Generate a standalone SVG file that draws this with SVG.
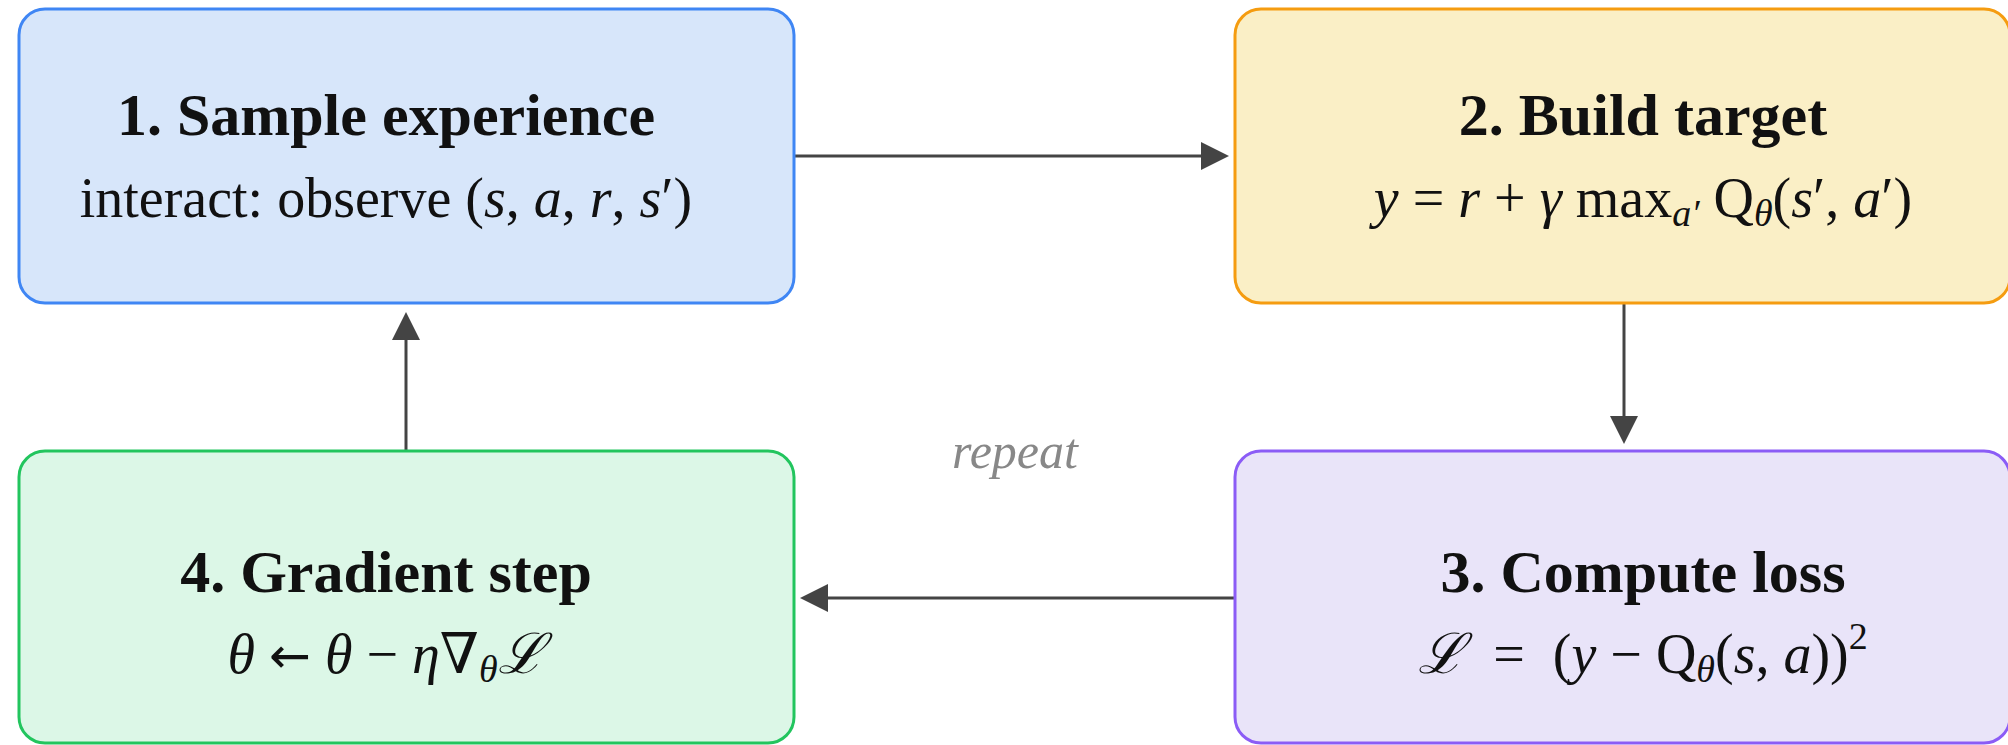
<svg xmlns="http://www.w3.org/2000/svg" width="2008" height="745" viewBox="0 0 2008 745">
  <style>
    .box { stroke-width: 3; }
    .blue { fill: #d7e6fa; stroke: #3f86f4; }
    .amber { fill: #faefc6; stroke: #f59c10; }
    .violet { fill: #e9e4f9; stroke: #8b5cf6; }
    .green { fill: #dcf7e7; stroke: #22c55e; }
    .title { font-family: "Liberation Serif", "DejaVu Serif", serif; font-weight: bold; font-size: 60px; fill: #111; text-anchor: middle; }
    .sub { font-family: "Liberation Serif", "DejaVu Serif", serif; font-size: 56px; fill: #111; text-anchor: middle; }
    .i { font-style: italic; }
    .s { font-size: 38px; }
    .arr { font-family: "DejaVu Sans", sans-serif; font-size: 50px; }
    .edge { stroke: #444; stroke-width: 3; fill: none; marker-end: url(#head); }
    .note { font-family: "Liberation Serif", "DejaVu Serif", serif; font-style: italic; font-size: 50px; fill: #888; text-anchor: middle; }
  </style>
  <defs>
    <marker id="head" viewBox="0 0 28 28" markerWidth="28" markerHeight="28" markerUnits="userSpaceOnUse" refX="2" refY="14" orient="auto">
      <path d="M0,0 L28,14 L0,28 Z" fill="#444"/>
    </marker>
  </defs>

  <!-- connectors -->
  <g id="connectors">
    <line class="edge" x1="794" y1="156" x2="1203" y2="156"/>
    <line class="edge" x1="1624" y1="303" x2="1624" y2="418"/>
    <line class="edge" x1="1235" y1="598" x2="826" y2="598"/>
    <line class="edge" x1="406" y1="451" x2="406" y2="338"/>
  </g>

  <text class="note" x="1015" y="468">repeat</text>

  <g id="node-sample">
    <rect class="box blue" x="19" y="9" width="775" height="294" rx="26"/>
    <text class="title" x="386" y="135">1. Sample experience</text>
    <text class="sub" x="386" y="217">interact: observe (<tspan class="i">s</tspan>, <tspan class="i">a</tspan>, <tspan class="i">r</tspan>, <tspan class="i">s</tspan>′)</text>
  </g>

  <g id="node-target">
    <rect class="box amber" x="1235" y="9" width="775" height="294" rx="26"/>
    <text class="title" x="1643" y="135">2. Build target</text>
    <text class="sub" x="1643" y="217"><tspan class="i">y</tspan> = <tspan class="i">r</tspan> + <tspan class="i">γ</tspan> max<tspan class="i s" dy="9">a′</tspan><tspan dy="-9"> Q</tspan><tspan class="i s" dy="9">θ</tspan><tspan dy="-9">(</tspan><tspan class="i">s</tspan>′, <tspan class="i">a</tspan>′)</text>
  </g>

  <g id="node-loss">
    <rect class="box violet" x="1235" y="451" width="775" height="292" rx="26"/>
    <text class="title" x="1643" y="592">3. Compute loss</text>
    <text class="sub" x="1643" y="673"><tspan class="i">ℒ</tspan>&#160; = &#160;(<tspan class="i">y</tspan> − Q<tspan class="i s" dy="9">θ</tspan><tspan dy="-9">(</tspan><tspan class="i">s</tspan>, <tspan class="i">a</tspan>))<tspan class="s" dy="-24">2</tspan></text>
  </g>

  <g id="node-step">
    <rect class="box green" x="19" y="451" width="775" height="292" rx="26"/>
    <text class="title" x="386" y="592">4. Gradient step</text>
    <text class="sub" x="386" y="673"><tspan class="i">θ</tspan> <tspan class="arr">←</tspan> <tspan class="i">θ</tspan> − <tspan class="i">η</tspan>∇<tspan class="i s" dy="9">θ</tspan><tspan class="i" dy="-9">ℒ</tspan></text>
  </g>
</svg>
